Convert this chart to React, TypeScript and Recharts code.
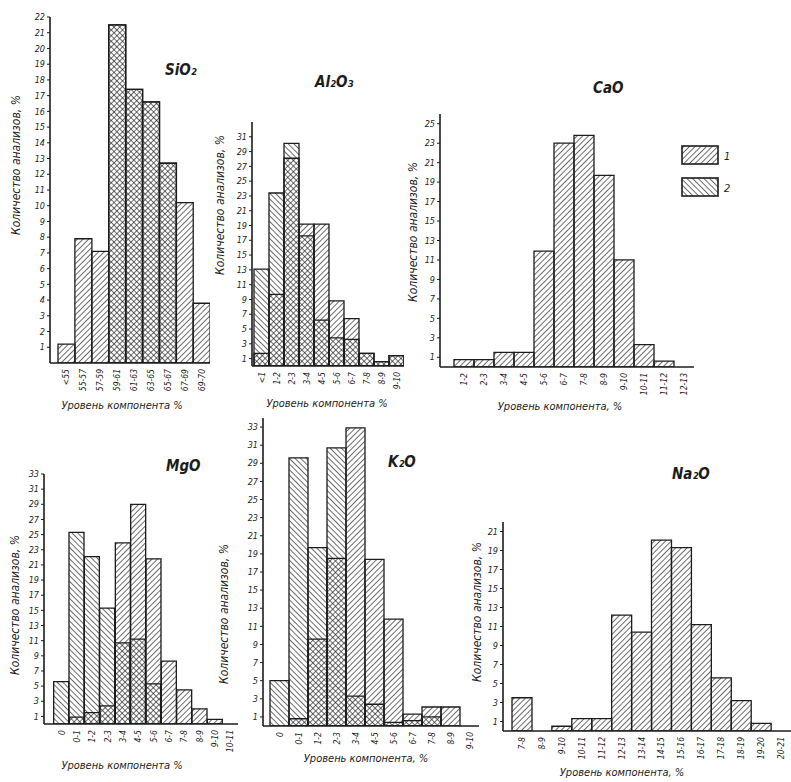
import React from 'react'
import { BarChart, Bar, XAxis, YAxis } from 'recharts'

const INK = '#1c1c1c'
const FONT = '"Liberation Sans Narrow", "DejaVu Sans Condensed", "DejaVu Sans", sans-serif'

// --- data ---
// series A = hatch "/", series B = hatch "\"; overlap shows as cross-hatch
const sioCats = ['<55', '55-57', '57-59', '59-61', '61-63', '63-65', '65-67', '67-69', '69-70']
const sioA = [1.2, 7.9, 7.1, 21.5, 17.4, 16.6, 12.7, 10.2, 3.8]
const sioB = [0, 0, 0, 21.5, 17.4, 16.6, 12.7, 0, 0]
const sioTicks = Array.from({ length: 22 }, (_, i) => i + 1)

const alCats = ['<1', '1-2', '2-3', '3-4', '4-5', '5-6', '6-7', '7-8', '8-9', '9-10']
const alA = [1.7, 9.7, 28.1, 19.2, 19.2, 8.8, 6.4, 1.7, 0.6, 1.4]
const alB = [13.1, 23.4, 30.1, 17.6, 6.2, 3.8, 3.6, 1.7, 0.6, 1.4]
const alTicks = [1, 3, 5, 7, 9, 11, 13, 15, 17, 19, 21, 23, 25, 27, 29, 31]

const caCats = ['1-2', '2-3', '3-4', '4-5', '5-6', '6-7', '7-8', '8-9', '9-10', '10-11', '11-12', '12-13']
const caA = [0.75, 0.75, 1.5, 1.5, 11.9, 23.0, 23.8, 19.7, 11.0, 2.3, 0.6, 0]
const caB = [0, 0, 0, 0, 0, 0, 0, 0, 0, 0, 0, 0]
const caTicks = [1, 3, 5, 7, 9, 11, 13, 15, 17, 19, 21, 23, 25]

const mgCats = ['0', '0-1', '1-2', '2-3', '3-4', '4-5', '5-6', '6-7', '7-8', '8-9', '9-10', '10-11']
const mgA = [0, 0.9, 1.5, 2.4, 23.9, 29.0, 21.8, 8.3, 4.5, 2.0, 0.6, 0]
const mgB = [5.6, 25.3, 22.1, 15.3, 10.7, 11.2, 5.3, 0, 0, 0, 0, 0]
const mgTicks = [1, 3, 5, 7, 9, 11, 13, 15, 17, 19, 21, 23, 25, 27, 29, 31, 33]

const kCats = ['0', '0-1', '1-2', '2-3', '3-4', '4-5', '5-6', '6-7', '7-8', '8-9', '9-10']
const kA = [0, 0.8, 9.6, 18.5, 32.9, 18.4, 11.8, 1.3, 2.1, 2.1, 0]
const kB = [5.0, 29.6, 19.7, 30.7, 3.3, 2.4, 0.4, 0.6, 1.0, 0, 0]
const kTicks = [1, 3, 5, 7, 9, 11, 13, 15, 17, 19, 21, 23, 25, 27, 29, 31, 33]

const naCats = ['7-8', '8-9', '9-10', '10-11', '11-12', '12-13', '13-14', '14-15', '15-16', '16-17', '17-18', '18-19', '19-20', '20-21']
const naA = [3.5, 0, 0.5, 1.3, 1.3, 12.2, 10.4, 20.1, 19.3, 11.2, 5.6, 3.2, 0.8, 0]
const naB = [0, 0, 0, 0, 0, 0, 0, 0, 0, 0, 0, 0, 0, 0]
const naTicks = [1, 3, 5, 7, 9, 11, 13, 15, 17, 19, 21]

const YLAB = 'Количество анализов, %'

const YW = 30
const XH = 34
const MT = 4

const panels = [
    {
        key: 'sio', cats: sioCats, a: sioA, b: sioB, ticks: sioTicks, yMax: 22,
        x0: 50, x1: 210, yTop: 17, yBase: 363, padLeft: 8,
        title: 'SiO₂', tx: 165, ty: 70,
        ylx: 16, yly: 165, xlab: 'Уровень компонента %', xlx: 122, xly: 405,
    },
    {
        key: 'al', cats: alCats, a: alA, b: alB, ticks: alTicks, yMax: 33,
        x0: 252, x1: 404, yTop: 122, yBase: 366, padLeft: 2,
        title: 'Al₂O₃', tx: 315, ty: 82,
        ylx: 220, yly: 205, xlab: 'Уровень компонента %', xlx: 327, xly: 403,
    },
    {
        key: 'ca', cats: caCats, a: caA, b: caB, ticks: caTicks, yMax: 26,
        x0: 440, x1: 694, yTop: 114, yBase: 367, padLeft: 14,
        title: 'CaO', tx: 593, ty: 88,
        ylx: 413, yly: 232, xlab: 'Уровень компонента, %', xlx: 560, xly: 406,
    },
    {
        key: 'mg', cats: mgCats, a: mgA, b: mgB, ticks: mgTicks, yMax: 33,
        x0: 44, x1: 238, yTop: 474, yBase: 724, padLeft: 10,
        title: 'MgO', tx: 166, ty: 466,
        ylx: 15, yly: 605, xlab: 'Уровень компонента %', xlx: 122, xly: 765,
    },
    {
        key: 'k', cats: kCats, a: kA, b: kB, ticks: kTicks, yMax: 34,
        x0: 263, x1: 479, yTop: 418, yBase: 726, padLeft: 7,
        title: 'K₂O', tx: 388, ty: 462,
        ylx: 224, yly: 614, xlab: 'Уровень компонента, %', xlx: 366, xly: 758,
    },
    {
        key: 'na', cats: naCats, a: naA, b: naB, ticks: naTicks, yMax: 22,
        x0: 503, x1: 791, yTop: 522, yBase: 731, padLeft: 9,
        title: 'Na₂O', tx: 672, ty: 474,
        ylx: 477, yly: 612, xlab: 'Уровень компонента, %', xlx: 622, xly: 772,
    },
]

function VTick(props: any) {
    const { x, y, payload } = props
    const yy = y + 2
    return (
        <text
            x={x} y={yy}
            transform={`rotate(-90 ${x} ${yy})`}
            textAnchor="end" dominantBaseline="central"
            fontSize={8.5} fontStyle="italic" fontFamily={FONT} fill={INK}
        >
            {payload.value}
        </text>
    )
}

function Panel({ p }: { p: any }) {
    const data = p.cats.map((c: string, i: number) => ({ cat: c, a: p.a[i], b: p.b[i] }))
    const w = p.x1 - p.x0 + YW
    const h = p.yBase - p.yTop + MT + XH
    return (
        <div style={{ position: 'absolute', left: p.x0 - YW, top: p.yTop - MT }}>
            <BarChart
                width={w} height={h} data={data}
                margin={{ top: MT, right: 0, left: 0, bottom: 0 }}
                barCategoryGap={0} barGap="-100%"
            >
                <XAxis
                    dataKey="cat" height={XH} interval={0}
                    padding={{ left: p.padLeft, right: 0 }}
                    tickLine={false} tickSize={2}
                    axisLine={{ stroke: INK, strokeWidth: 1.6 }}
                    tick={<VTick />}
                />
                <YAxis
                    width={YW} domain={[0, p.yMax]} ticks={p.ticks} interval={0}
                    allowDataOverflow
                    axisLine={{ stroke: INK, strokeWidth: 1.6 }}
                    tickLine={{ stroke: INK }} tickSize={3}
                    tick={{ fontSize: 9, fill: INK, fontStyle: 'italic', fontFamily: FONT }}
                />
                <Bar dataKey="a" fill="url(#hatchA)" stroke={INK} strokeWidth={1.3} isAnimationActive={false} />
                <Bar dataKey="b" fill="url(#hatchB)" stroke={INK} strokeWidth={1.3} isAnimationActive={false} />
            </BarChart>
        </div>
    )
}

const textStyle: React.CSSProperties = {
    position: 'absolute', fontFamily: FONT, fontStyle: 'italic', color: INK, whiteSpace: 'nowrap',
}

export default function App() {
    return (
        <div style={{ position: 'absolute', left: 0, top: 0, width: 791, height: 782, background: '#fff', overflow: 'hidden' }}>
            {/* shared hatch patterns */}
            <svg width={0} height={0} style={{ position: 'absolute' }}>
                <defs>
                    <pattern id="hatchA" width={4} height={4} patternUnits="userSpaceOnUse" patternTransform="rotate(45)">
                        <line x1={0} y1={0} x2={0} y2={4} stroke={INK} strokeWidth={1.3} />
                    </pattern>
                    <pattern id="hatchB" width={4} height={4} patternUnits="userSpaceOnUse" patternTransform="rotate(-45)">
                        <line x1={0} y1={0} x2={0} y2={4} stroke={INK} strokeWidth={1.3} />
                    </pattern>
                </defs>
            </svg>

            {panels.map(p => <Panel key={p.key} p={p} />)}

            {panels.map(p => (
                <React.Fragment key={p.key + '-txt'}>
                    <div style={{ ...textStyle, left: p.tx, top: p.ty, transform: 'translateY(-50%)', fontSize: 15, fontWeight: 700 }}>
                        {p.title}
                    </div>
                    <div style={{ ...textStyle, left: p.ylx, top: p.yly, transform: 'translate(-50%, -50%) rotate(-90deg)', fontSize: 12 }}>
                        {YLAB}
                    </div>
                    <div style={{ ...textStyle, left: p.xlx, top: p.xly, transform: 'translate(-50%, -50%)', fontSize: 11 }}>
                        {p.xlab}
                    </div>
                </React.Fragment>
            ))}

            {/* legend (drawn in the CaO panel) */}
            <svg width={60} height={60} style={{ position: 'absolute', left: 680, top: 144 }}>
                <rect x={2} y={2} width={36} height={18} fill="url(#hatchA)" stroke={INK} strokeWidth={1.6} />
                <rect x={2} y={34} width={36} height={18} fill="url(#hatchB)" stroke={INK} strokeWidth={1.6} />
                <text x={44} y={16} fontSize={11} fontStyle="italic" fontFamily={FONT} fill={INK}>1</text>
                <text x={44} y={48} fontSize={11} fontStyle="italic" fontFamily={FONT} fill={INK}>2</text>
            </svg>
        </div>
    )
}
